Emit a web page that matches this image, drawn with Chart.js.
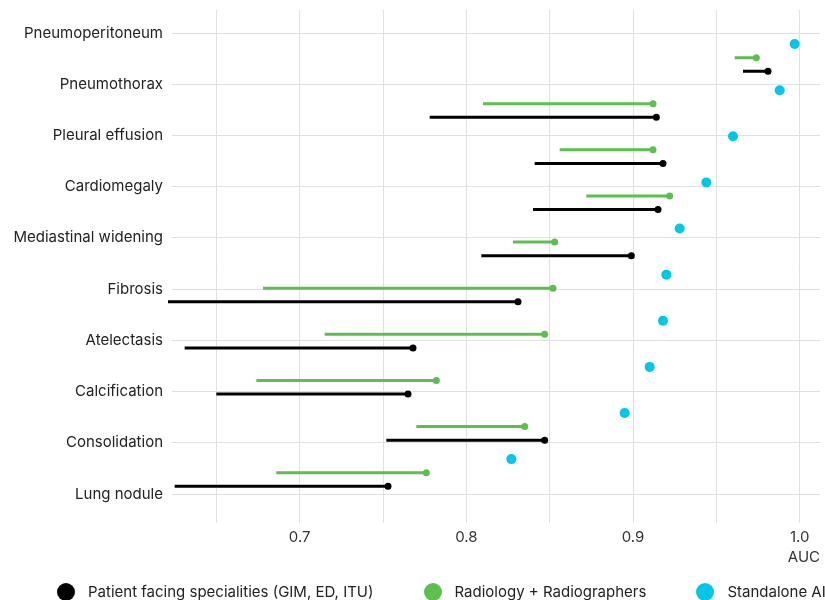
<!DOCTYPE html>
<html>
<head>
<meta charset="utf-8">
<script src="https://cdn.jsdelivr.net/npm/chart.js@4"></script>
<style>
  html, body { margin: 0; padding: 0; background: #fff; overflow: hidden; }
  #wrap { position: relative; width: 825px; height: 600px; }
  #legend {
    position: absolute; left: 0; top: 582px; width: 825px; height: 20px;
    display: flex; gap: 50px; padding-left: 57px; box-sizing: border-box;
    font: 15px Inter, "Noto Sans", sans-serif; color: #222; line-height: 20px;
    white-space: nowrap; overflow: hidden;
  }
  #legend .item { display: flex; align-items: center; }
  #legend .dot { width: 18px; height: 18px; border-radius: 50%; margin-right: 13px; flex: none; }
</style>
</head>
<body>
<div id="wrap">
  <canvas id="auc"></canvas>
  <div id="legend"></div>
</div>
<script>
// AUC per finding
const categories = ['Pneumoperitoneum', 'Pneumothorax', 'Pleural effusion', 'Cardiomegaly',
    'Mediastinal widening', 'Fibrosis', 'Atelectasis', 'Calcification', 'Consolidation', 'Lung nodule'];
const aiAuc = [0.997, 0.988, 0.960, 0.944, 0.928, 0.920, 0.918, 0.910, 0.895, 0.827];
const radioLow = [0.961, 0.810, 0.856, 0.872, 0.828, 0.678, 0.715, 0.674, 0.770, 0.686];
const radioHigh = [0.974, 0.912, 0.912, 0.922, 0.853, 0.852, 0.847, 0.782, 0.835, 0.776];
const patientLow = [0.966, 0.778, 0.841, 0.840, 0.809, 0.621, 0.631, 0.650, 0.752, 0.625];
const patientHigh = [0.981, 0.914, 0.918, 0.915, 0.899, 0.831, 0.768, 0.765, 0.847, 0.753];
const xTicks = [0.65, 0.7, 0.75, 0.8, 0.85, 0.9, 0.95, 1.0];
const seriesNames = ['Patient facing specialities (GIM, ED, ITU)', 'Radiology + Radiographers', 'Standalone AI'];

const BLACK = '#000000', GREEN = '#5cbf4f', CYAN = '#00c6e8';

// row layout (in category units): each finding gets 3 rows
const groupStep = 0.9004, rowStep = 0.265, firstRow = 0.215;
const rowY = (k, r) => firstRow + k * groupStep + r * rowStep;

function segments(low, high, r) {
    const pts = [];
    low.forEach((v, k) => {
        pts.push({ x: v, y: rowY(k, r) }, { x: high[k], y: rowY(k, r) }, { x: null, y: null });
    });
    return pts;
}

Chart.defaults.font.family = 'Inter, "Noto Sans", sans-serif';
Chart.defaults.font.size = 15;
Chart.defaults.color = '#222';

const endDot = r => ctx => (ctx.dataIndex % 3 === 1 ? r : 0);

const chart = new Chart(document.getElementById('auc'), {
    type: 'scatter',
    data: {
        datasets: [{
            label: seriesNames[0],
            data: segments(patientLow, patientHigh, 2),
            showLine: true,
            clip: false,
            borderColor: BLACK,
            backgroundColor: BLACK,
            borderWidth: 3,
            pointRadius: endDot(3.5),
            pointHoverRadius: endDot(3.5),
            pointBorderWidth: 0
        }, {
            label: seriesNames[1],
            data: segments(radioLow, radioHigh, 1),
            showLine: true,
            clip: false,
            borderColor: GREEN,
            backgroundColor: GREEN,
            borderWidth: 3,
            pointRadius: endDot(3.5),
            pointHoverRadius: endDot(3.5),
            pointBorderWidth: 0
        }, {
            label: seriesNames[2],
            data: aiAuc.map((v, k) => ({ x: v, y: rowY(k, 0) })),
            clip: false,
            backgroundColor: CYAN,
            borderColor: CYAN,
            borderWidth: 0,
            pointRadius: 5,
            pointHoverRadius: 5
        }]
    },
    options: {
        responsive: true,
        maintainAspectRatio: false,
        animation: false,
        layout: { padding: { top: 10, right: 3, left: 0, bottom: 34 } },
        scales: {
            x: {
                type: 'linear',
                min: 0.6234,
                max: 1.0122,
                afterBuildTicks: s => { s.ticks = xTicks.map(v => ({ value: v })); },
                afterFit: s => { s.height = 43; },
                ticks: {
                    color: '#333',
                    padding: 5,
                    autoSkip: false,
                    maxRotation: 0,
                    callback: v => (Math.round(v * 100) % 10 === 0 ? v.toFixed(1) : '')
                },
                grid: { color: '#dde1e3', lineWidth: 1, drawTicks: false },
                border: { display: false },
                title: { display: true, text: 'AUC', align: 'end', color: '#333', padding: { top: 2, bottom: 0 } }
            },
            y: {
                type: 'linear',
                reverse: true,
                min: -0.45,
                max: 9.566,
                afterBuildTicks: s => { s.ticks = categories.map((_, i) => ({ value: i })); },
                afterFit: s => { s.width = 172; s.paddingTop = 0; s.paddingBottom = 0; },
                ticks: {
                    color: '#222',
                    padding: 9,
                    autoSkip: false,
                    callback: v => categories[v]
                },
                grid: { color: '#dde1e3', lineWidth: 1, drawTicks: false },
                border: { display: false }
            }
        },
        plugins: {
            legend: { display: false },
            tooltip: { enabled: false }
        }
    }
});

// legend built from the chart's own datasets
const legendEl = document.getElementById('legend');
chart.data.datasets.forEach(ds => {
    const item = document.createElement('span');
    item.className = 'item';
    const dot = document.createElement('span');
    dot.className = 'dot';
    dot.style.background = ds.backgroundColor;
    item.appendChild(dot);
    item.appendChild(document.createTextNode(ds.label));
    legendEl.appendChild(item);
});
</script>
</body>
</html>
